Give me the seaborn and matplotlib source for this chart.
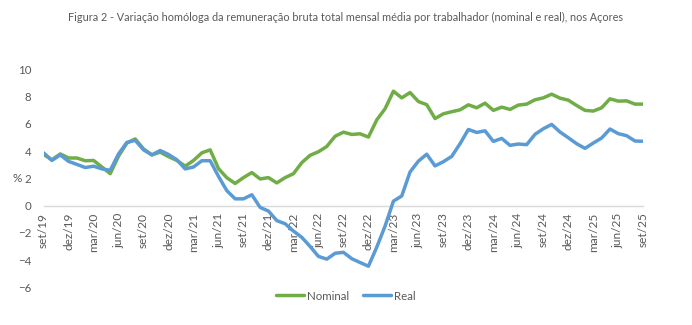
import matplotlib
matplotlib.use("Agg")
import matplotlib.pyplot as plt
import seaborn as sns
import pandas as pd
from matplotlib.lines import Line2D

title = "Figura 2 - Variação homóloga da remuneração bruta total mensal média por trabalhador (nominal e real), nos Açores"

nominal = [3.76, 3.37, 3.8, 3.5, 3.5, 3.3, 3.32, 2.84, 2.35, 3.64, 4.6, 4.9, 4.17,
           3.73, 3.93, 3.6, 3.32, 2.9, 3.32, 3.88, 4.1, 2.72, 2.05, 1.63, 2.06,
           2.43, 1.96, 2.06, 1.67, 2.06, 2.35, 3.16, 3.7, 3.96, 4.35, 5.1, 5.4,
           5.23, 5.28, 5.04, 6.3, 7.12, 8.41, 7.92, 8.31, 7.65, 7.42, 6.4, 6.75,
           6.9, 7.04, 7.41, 7.19, 7.53, 7.0, 7.24, 7.07, 7.39, 7.46, 7.78, 7.92,
           8.19, 7.9, 7.75, 7.36, 7.0, 6.95, 7.19, 7.85, 7.68, 7.7, 7.46, 7.46]

real = [3.88, 3.32, 3.73, 3.25, 3.03, 2.8, 2.9, 2.7, 2.6, 3.8, 4.65, 4.8, 4.1,
        3.73, 4.05, 3.76, 3.37, 2.7, 2.84, 3.3, 3.3, 2.15, 1.1, 0.5, 0.5,
        0.8, -0.13, -0.4, -1.1, -1.33, -1.87, -2.33, -3.0, -3.73, -3.93, -3.5, -3.43,
        -3.9, -4.18, -4.45, -3.05, -1.5, 0.33, 0.71, 2.48, 3.27, 3.78, 2.92, 3.23,
        3.62, 4.55, 5.6, 5.38, 5.5, 4.72, 4.94, 4.43, 4.53, 4.48, 5.24, 5.65,
        5.97, 5.41, 4.99, 4.55, 4.21, 4.6, 4.97, 5.63, 5.29, 5.14, 4.75, 4.73]

tick_labels = ["set/19", "dez/19", "mar/20", "jun/20", "set/20", "dez/20", "mar/21",
               "jun/21", "set/21", "dez/21", "mar/22", "jun/22", "set/22", "dez/22",
               "mar/23", "jun/23", "set/23", "dez/23", "mar/24", "jun/24", "set/24",
               "dez/24", "mar/25", "jun/25", "set/25"]

series_names = ["Nominal", "Real"]
colors = ["#70AD47", "#5B9BD5"]

month_idx = list(range(len(nominal)))
df = pd.DataFrame({
    "mes": month_idx * 2,
    "valor": nominal + real,
    "serie": [series_names[0]] * len(nominal) + [series_names[1]] * len(real),
})

sns.set_theme(style="white")
plt.rcParams["font.family"] = ["Lato", "DejaVu Sans"]
text_color = "#595959"

fig = plt.figure(figsize=(6.92, 3.25), dpi=100)
ax = fig.add_axes([0.063, 0.116, 0.8666, 0.67])

sns.lineplot(data=df, x="mes", y="valor", hue="serie", palette=colors,
             linewidth=2.5, ax=ax, legend=False)

ax.set_xlim(0, len(nominal) - 1)
ax.set_ylim(-6, 10)
ax.set_yticks(range(-6, 11, 2))
ax.set_xticks(range(0, len(nominal), 3))
ax.set_xticklabels(tick_labels)
ax.tick_params(axis="y", length=0, pad=9, labelsize=8.3, labelcolor=text_color)
ax.tick_params(axis="x", length=4, width=0.8, color="#D9D9D9", direction="out", pad=1,
               labelsize=8.6, labelcolor=text_color, labelrotation=90)

for s in ["top", "right", "left"]:
    ax.spines[s].set_visible(False)
ax.spines["bottom"].set_position(("data", 0))
ax.spines["bottom"].set_color("#D9D9D9")
ax.spines["bottom"].set_linewidth(1.0)
ax.spines["bottom"].set_zorder(0)

ax.set_xlabel("")
ax.set_ylabel("")
fig.text(17 / 692, 1 - 178 / 325, "%", fontsize=8.5, color=text_color, ha="center", va="center")

fig.text(0.5, 1 - 17 / 325, title, fontsize=7.8, color=text_color, ha="center", va="center")

handles = [Line2D([0], [0], color=c, lw=2.5) for c in colors]
leg = fig.legend(handles, series_names, loc="center", bbox_to_anchor=(0.5, 1 - 296 / 325),
                 ncol=2, frameon=False, fontsize=8.3, handlelength=2.4, columnspacing=1.2,
                 handletextpad=0.3)
for t in leg.get_texts():
    t.set_color(text_color)

fig.savefig("out.png", dpi=100, facecolor="white")
